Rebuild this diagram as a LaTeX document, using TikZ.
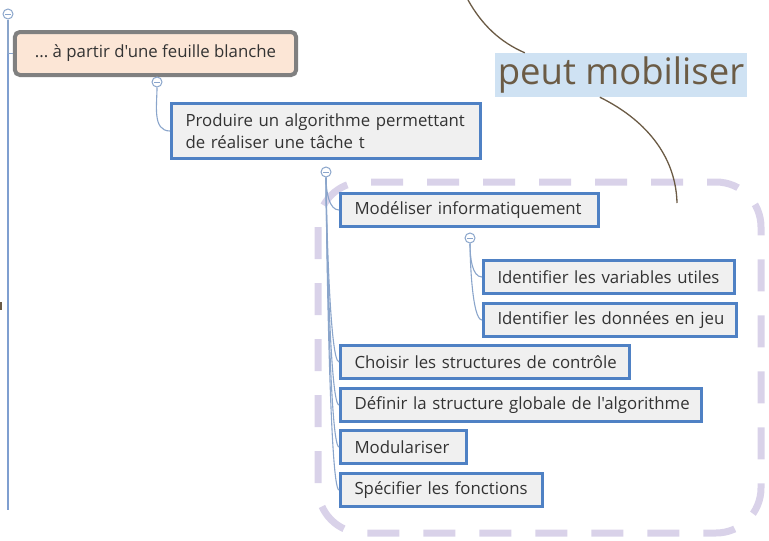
\documentclass[tikz,border=0pt]{standalone}
\usepackage{fontspec}
\setmainfont{Open Sans}[Ligatures=TeXOff]
\begin{document}
\begin{tikzpicture}[x=1pt,y=-1pt,
  every node/.style={font=\frenchspacing\fontsize{16.8}{22}\selectfont, text=txtc},
  box/.style={draw=boxblue, line width=3pt, fill=boxfill, inner xsep=14pt, inner ysep=0pt, align=left},
  rootbox/.style={draw=rootgray, line width=4pt, fill=rootfill, rounded corners=5pt, inner xsep=20pt, inner ysep=0pt, align=left},
  tog/.style={circle, draw=conn, fill=white, line width=1pt, minimum size=10pt, inner sep=0pt,
    path picture={\draw[conn, line width=1pt] ([xshift=-2.8pt]path picture bounding box.center) -- ([xshift=2.8pt]path picture bounding box.center);}},
  link/.style={draw=conn, line width=1.1pt},
  trunk/.style={draw=trunkc, line width=1.6pt},
  rel/.style={draw=relc, line width=1.3pt}
]
\definecolor{txtc}{HTML}{333333}
\definecolor{boxblue}{HTML}{4F81C4}
\definecolor{boxfill}{HTML}{F0F0F0}
\definecolor{rootgray}{HTML}{808080}
\definecolor{rootfill}{HTML}{FCE6D6}
\definecolor{conn}{HTML}{8AA5CB}
\definecolor{trunkc}{HTML}{7F9FD0}
\definecolor{relc}{HTML}{6B5B45}
\definecolor{dashc}{HTML}{D9D2E9}
\definecolor{labfill}{HTML}{CFE2F3}

\useasboundingbox (0,0) rectangle (769,541);

% dashed boundary
\draw[dashc, line width=7pt, dash pattern=on 32pt off 24pt, rounded corners=45pt]
  (318,182) rectangle (761,533);

% nodes
\node[rootbox, minimum width=281pt, minimum height=43pt] (n1) at (155.5,53.5) {... à partir d'une feuille blanche};
\node[box, minimum height=55pt, text width=281pt] (n2) at (326,131) {\mbox{Produire un algorithme permettant}\\\mbox{de réaliser une tâche t}};
\node[box, minimum height=33pt, text width=230pt] (n3) at (469.5,210) {\mbox{Modéliser informatiquement}};
\node[box, minimum height=33pt, text width=223pt] (n4) at (609,277) {\mbox{Identifier les variables utiles}};
\node[box, minimum height=33pt, text width=225pt] (n5) at (610,320) {\mbox{Identifier les données en jeu}};
\node[box, minimum height=33pt, text width=261pt] (n6) at (485,362) {\mbox{Choisir les structures de contrôle}};
\node[box, minimum height=33pt, text width=333pt] (n7) at (521,405) {\mbox{Définir la structure globale de l'algorithme}};
\node[box, minimum height=33pt, text width=98pt] (n8) at (403.5,447) {\mbox{Modulariser}};
\node[box, minimum height=33pt, text width=174pt] (n9) at (441.5,490) {\mbox{Spécifier les fonctions}};

% toggles
\node[tog] (c0) at (8,14) {};
\node[tog] (c1) at (157,82) {};
\node[tog] (c2) at (326,172) {};
\node[tog] (c3) at (470,238) {};
\coordinate (vend) at (8,510);

% connectors
\draw[trunk] (c0.south) -- (vend);
\draw[link] (c0.south) |- (n1.west);
\draw[link] (c1.south) to[out=-90,in=180] (n2.west);
\foreach \n in {n3,n6,n7,n8,n9}{
  \draw[link] (c2.south) .. controls ([yshift=-14pt]c2.south) and ([xshift=-10pt]\n.west) .. (\n.west);
}
\foreach \n in {n4,n5}{
  \draw[link] (c3.south) .. controls ([yshift=-14pt]c3.south) and ([xshift=-10pt]\n.west) .. (\n.west);
}

% relationship label
\node[fill=labfill, inner xsep=0pt, inner ysep=0pt, minimum width=252pt, minimum height=44pt, text=relc,
  font=\fontsize{36.5}{40}\selectfont] (lab) at (621,75) {peut mobiliser};
\coordinate (rtop) at (468,0);
\coordinate (rend) at (677,203);
\draw[rel] (rtop) .. controls (482,25) and (500,42) .. ([xshift=30pt]lab.north west);
\draw[rel] ([xshift=105pt]lab.south west) .. controls (650,122) and (676,160) .. (rend);

% small mark at left edge
\fill[relc] (0,302) rectangle (2,310);
\end{tikzpicture}
\end{document}
